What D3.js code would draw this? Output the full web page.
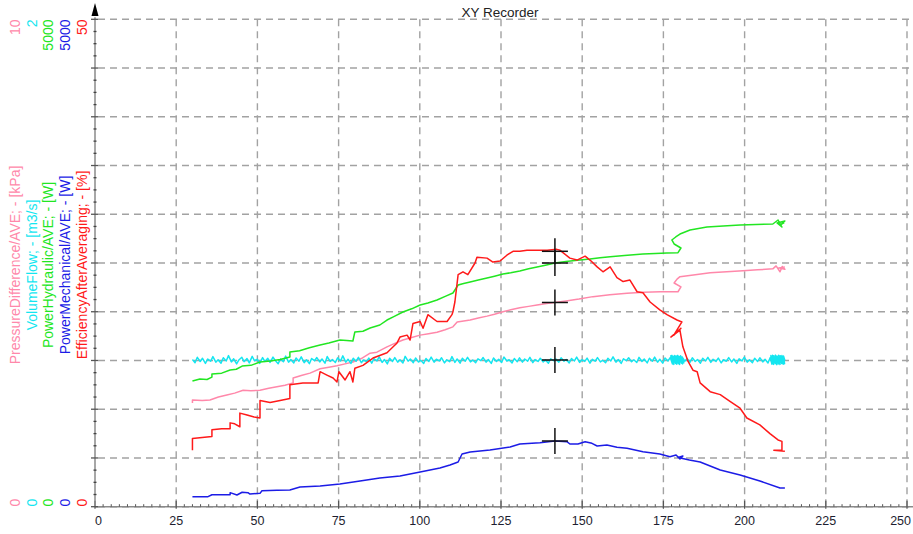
<!DOCTYPE html>
<html>
<head>
<meta charset="utf-8">
<script src="https://cdn.jsdelivr.net/npm/d3@7"></script>
<style>
  html, body { margin: 0; padding: 0; background: #ffffff; }
  svg { display: block; font-family: "Liberation Sans", Arial, sans-serif; }
</style>
</head>
<body>
<svg id="chart" width="913" height="534"></svg>
<script>
// ---- channel definitions -------------------------------------------------
const channelNames = [
  "PressureDifference/AVE; - [kPa]",
  "VolumeFlow; - [m3/s]",
  "PowerHydraulic/AVE; - [W]",
  "PowerMechanical/AVE; - [W]",
  "EfficiencyAfterAveraging; - [%]"
];
const channelMax = [10, 2, 5000, 5000, 50];
const channelMaxLabels = ["10", "2", "5000", "5000", "50"];
const channelMinLabels = ["0", "0", "0", "0", "0"];

const xTicks = [0, 25, 50, 75, 100, 125, 150, 175, 200, 225, 250];
const title = "XY Recorder";

// cursor position (flow axis) and channel readings at the cursor
const cursorX = 141.6;
const cursorValues = [4.19, 0.602, 2500, 674, 26.2];

// ---- recorded traces: [x, value] ----------------------------------------
const pressureDiff = [
  [30.0,2.13],[30.0,2.19],[33,2.18],[35.4,2.19],[38,2.25],[40.6,2.29],[43,2.33],[45.6,2.39],
  [48,2.38],[50.8,2.39],[53.5,2.43],[56.0,2.46],[58.5,2.49],[61.0,2.54],[61.0,2.64],[63.5,2.69],
  [66.2,2.74],[69.3,2.83],[72,2.86],[74.5,2.89],[77,2.93],[79.4,2.97],[82,3.04],[84.7,3.15],
  [86.8,3.17],[89.9,3.28],[92.3,3.35],[94.8,3.42],[97.5,3.47],[100.1,3.52],[102.7,3.55],[105.3,3.58],
  [107.8,3.63],[110.2,3.69],[111.5,3.79],[113.5,3.81],[115.5,3.83],[118,3.87],[120.7,3.91],[123,3.95],
  [125.6,4.00],[128,4.04],[130.8,4.08],[133.5,4.11],[136.1,4.14],[139,4.17],[141.6,4.19],[145,4.22],
  [149,4.26],[153.3,4.31],[158.5,4.35],[163.8,4.38],[169,4.40],[174.0,4.41],[179.5,4.41],[180.4,4.51],
  [178.3,4.59],[179.2,4.67],[180.1,4.72],[184.8,4.76],[189.4,4.80],[194.5,4.82],[199.5,4.84],[204,4.86],
  [208.7,4.88],[209.7,4.94],[210.9,4.82],[211.6,4.93],[212.4,4.87],[210.5,4.90],[212.4,4.92]
];

const volumeFlow = [
  [30.0,.604],[30.8,.591],[31.5,.613],[32.4,.596],[33.1,.609],[34.0,.588],[34.7,.606],[35.6,.597],[36.3,.616],[37.2,.593],
  [37.9,.603],[38.8,.589],[39.5,.611],[40.4,.598],[41.1,.620],[42.0,.594],[42.7,.607],[43.6,.586],[44.3,.602],[45.2,.613],
  [45.9,.595],[46.8,.608],[47.5,.590],[48.4,.617],[49.1,.599],[50.0,.605],[50.7,.588],[51.6,.612],[52.3,.596],[53.2,.609],
  [53.9,.592],[54.8,.614],[55.5,.600],[56.4,.587],[57.1,.606],[58.0,.595],[58.7,.618],[59.6,.593],[60.3,.604],[61.2,.590],
  [61.9,.610],[62.8,.597],[63.5,.615],[64.4,.591],[65.1,.603],[66.0,.587],[66.7,.608],[67.6,.599],[68.3,.612],[69.2,.594],
  [69.9,.606],[70.8,.589],[71.5,.616],[72.4,.596],[73.1,.604],[74.0,.592],[74.7,.611],[75.6,.598],[76.3,.619],[77.2,.593],
  [77.9,.605],[78.8,.588],[79.5,.609],[80.4,.597],[81.1,.613],[82.0,.591],[82.7,.602],[83.6,.595],[84.3,.610],[85.2,.589],
  [85.9,.607],[86.8,.598],[87.5,.615],[88.4,.592],[89.1,.604],[90.0,.586],[90.7,.609],[91.6,.596],[92.3,.612],[93.2,.593],
  [93.9,.603],[94.8,.590],[95.5,.617],[96.4,.597],[97.1,.606],[98.0,.591],[98.7,.610],[99.6,.594],[100.3,.601],[101.2,.588],
  [101.9,.608],[102.8,.596],[103.5,.614],[104.4,.593],[105.1,.605],[106.0,.598],[106.7,.611],[107.6,.590],[108.3,.603],[109.2,.595],
  [109.9,.616],[110.8,.592],[111.5,.606],[112.4,.589],[113.1,.609],[114.0,.597],[114.7,.613],[115.6,.594],[116.3,.602],[117.2,.591],
  [117.9,.607],[118.8,.599],[119.5,.612],[120.4,.593],[121.1,.604],[122.0,.588],[122.7,.610],[123.6,.596],[124.3,.605],[125.2,.592],
  [125.9,.614],[126.8,.598],[127.5,.603],[128.4,.590],[129.1,.608],[130.0,.595],[130.7,.611],[131.6,.593],[132.3,.606],[133.2,.597],
  [133.9,.613],[134.8,.591],[135.5,.604],[136.4,.596],[137.1,.609],[138.0,.594],[138.7,.602],[139.6,.589],[140.3,.607],[141.2,.599],
  [141.9,.606],[142.8,.593],[143.5,.611],[144.4,.597],[145.1,.604],[146.0,.590],[146.7,.608],[147.6,.598],[148.3,.614],[149.2,.592],
  [149.9,.603],[150.8,.596],[151.5,.610],[152.4,.589],[153.1,.605],[154.0,.597],[154.7,.612],[155.6,.594],[156.3,.601],[157.2,.591],
  [157.9,.609],[158.8,.598],[159.5,.615],[160.4,.593],[161.1,.604],[162.0,.588],[162.7,.607],[163.6,.599],[164.3,.611],[165.2,.595],
  [165.9,.603],[166.8,.592],[167.5,.613],[168.4,.596],[169.1,.606],[170.0,.590],[170.7,.609],[171.6,.597],[172.3,.614],[173.2,.593],
  [173.9,.605],[174.8,.589],[175.5,.610],[176.4,.598],[177.1,.612],
  [177.8,.586],[177.3,.619],[178.2,.584],[177.6,.621],[178.7,.588],[178.1,.617],[179.1,.585],[178.5,.620],[179.6,.587],[179.0,.618],
  [180.0,.584],[179.4,.621],[180.5,.589],[179.9,.616],[180.9,.586],[180.3,.619],[181.3,.590],[180.8,.614],[181.6,.597],
  [182.3,.608],[183.2,.593],[183.9,.611],[184.8,.596],[185.5,.604],[186.4,.589],[187.1,.609],[188.0,.598],[188.7,.613],[189.6,.592],
  [190.3,.605],[191.2,.596],[191.9,.610],[192.8,.590],[193.5,.603],[194.4,.597],[195.1,.612],[196.0,.594],[196.7,.606],[197.6,.588],
  [198.3,.607],[199.2,.598],[199.9,.614],[200.8,.593],[201.5,.603],[202.4,.591],[203.1,.609],[204.0,.596],[204.7,.611],[205.6,.594],
  [206.3,.605],[207.2,.590],[207.9,.612],
  [208.4,.585],[208.1,.620],[208.9,.584],[208.6,.621],[209.4,.587],[209.0,.619],[209.9,.583],[209.5,.622],[210.4,.586],[210.0,.618],
  [210.9,.584],[210.5,.621],[211.4,.588],[211.0,.619],[211.9,.585],[211.5,.620],[212.3,.587],[212.0,.618],[212.4,.600]
];

const powerHydraulic = [
  [30.0,1289],[32.3,1310],[34.5,1305],[36.0,1330],[36.0,1361],[39,1370],[41.6,1402],[43.5,1410],
  [45.3,1443],[48,1450],[50.8,1484],[54,1495],[57,1510],[60.0,1536],[60.0,1587],[63,1600],
  [66,1630],[69.3,1659],[72,1680],[75.4,1710],[77.5,1705],[79.4,1700],[80.0,1792],[82.5,1800],
  [84.7,1833],[87.7,1864],[89.9,1915],[92,1950],[94.8,1997],[97.5,2030],[100.1,2069],[102.5,2090],
  [105.3,2120],[108,2160],[110.2,2192],[111.8,2274],[113.5,2290],[115.5,2305],[118,2325],[120.7,2346],
  [123,2365],[125.6,2387],[128,2400],[130.8,2418],[133.5,2440],[136.1,2459],[139,2480],[141.6,2500],
  [145,2515],[148.5,2528],[152.4,2541],[155.5,2555],[158.6,2565],[163,2578],[168.7,2592],[172.5,2598],
  [176.1,2602],[179.5,2606],[180.4,2654],[178.3,2695],[177.6,2736],[178.8,2767],[180.1,2797],[183.2,2838],
  [185.8,2855],[188.4,2869],[193.4,2879],[198.6,2890],[203.5,2895],[208.7,2900],[210.3,2941],[211.5,2869],
  [210.0,2910],[212.4,2931],[211.0,2890],[212.2,2915]
];

const powerMechanical = [
  [30.0,103],[34.8,103],[36.0,123],[41.6,123],[41.6,144],[43.7,120],[45.3,148],[47.1,144],
  [47.7,130],[50.8,137],[51.4,164],[56,168],[60.0,171],[63.1,202],[69.3,212],[75.4,233],
  [81.6,264],[87.7,294],[93.9,315],[100.1,356],[106.2,397],[109.3,428],[111.8,459],[113.0,541],
  [115.5,561],[121.6,582],[127.8,612],[130.8,643],[137.0,657],[141.6,674],[145.3,667],[146.2,643],
  [148.7,643],[150.9,667],[153.0,650],[154.6,623],[157.6,633],[160.7,609],[163.8,599],[168.7,564],
  [173.9,541],[177.0,513],[178.9,530],[180.1,489],[181.0,520],[179.5,505],[183,480],[186.3,459],
  [192.5,376],[198.6,325],[204.7,264],[210.9,192],[212.4,192]
];

const efficiency = [
  [30.0,5.8],[30.0,7.0],[33,7.1],[36.0,7.2],[36.0,7.9],[39,8.0],[41.6,8.0],[41.6,8.6],
  [43,8.5],[44.6,8.2],[44.6,9.6],[46.8,9.4],[49,9.2],[50.8,9.1],[50.8,10.9],[53.9,10.7],
  [57,10.9],[60.0,11.1],[60.0,12.5],[64.0,12.7],[68.7,12.7],[69.3,13.85],[71.4,13.5],[73.3,13.2],
  [74.5,12.8],[75.1,13.85],[77.0,13.0],[78.5,13.85],[79.4,12.8],[80.0,14.2],[82.5,14.5],[85.6,15.25],
  [89.9,15.8],[93.0,16.8],[93.9,17.4],[96.1,17.6],[97.0,17.1],[97.9,18.8],[100.1,19.0],[101.0,18.3],
  [102.5,19.7],[105.3,19.0],[108.4,19.0],[109.9,19.7],[110.2,20.0],[110.8,21.0],[111.8,23.8],[113.3,24.1],
  [114.8,23.8],[117.0,25.0],[117.6,25.6],[120.7,25.5],[122.5,25.1],[124.7,25.2],[126.8,25.8],[128.7,26.2],
  [130.8,26.2],[133.0,26.3],[139.2,26.3],[142.2,26.4],[143.2,26.3],[146.2,25.5],[148.4,25.3],[150.9,25.7],
  [152.4,25.3],[154.6,24.6],[156.4,24.1],[158.6,24.6],[160.7,23.5],[162.6,23.1],[164.7,23.25],[166.9,22.05],
  [168.7,21.95],[170.9,21.0],[173.9,20.2],[176.1,19.7],[179.2,19.15],[180.7,18.95],[178.2,17.6],[180.4,18.3],
  [177.3,17.4],[180.1,18.1],[181.0,16.4],[182.6,14.9],[184.1,14.0],[185.4,13.85],[186.3,12.7],[189.4,11.8],
  [192.5,11.5],[195.5,10.8],[198.6,10.1],[200.7,9.1],[204.7,8.4],[207.8,7.5],[210.3,6.85],[211.5,6.7],
  [211.5,5.8],[209.0,5.8],[212.4,5.7]
];

const channelColors = ["#ff88aa", "#14e6f0", "#22e622", "#1c1ce6", "#ff1a1a"];

// ---- drawing ---------------------------------------------------------------
const svg = d3.select("#chart");
const W = 913, H = 534;
const plot = { left: 95, right: 907, top: 19.3, bottom: 506.7 };

const x = d3.scaleLinear().domain([0, 250]).range([plot.left, plot.right]);
const yScales = channelMax.map(m => d3.scaleLinear().domain([0, m]).range([plot.bottom, plot.top]));
const yRef = yScales[4];

const gridColor = "#a2a2a2";
const axisColor = "#8a8a8a";

// dashed grid
const grid = svg.append("g").attr("class", "grid");
grid.selectAll("line.h")
  .data(d3.range(0, 55, 5))
  .join("line")
  .attr("class", "h")
  .attr("x1", plot.left + 3).attr("x2", W)
  .attr("y1", d => yRef(d)).attr("y2", d => yRef(d))
  .attr("stroke", gridColor).attr("stroke-width", 1.4)
  .attr("stroke-dasharray", "7,5");
grid.selectAll("line.v")
  .data(xTicks.slice(1))
  .join("line")
  .attr("class", "v")
  .attr("x1", d => x(d)).attr("x2", d => x(d))
  .attr("y1", plot.top).attr("y2", plot.bottom)
  .attr("stroke", gridColor).attr("stroke-width", 1.4)
  .attr("stroke-dasharray", "7,5");

// x axis
const xAxisG = svg.append("g");
xAxisG.append("line")
  .attr("x1", plot.left).attr("x2", W)
  .attr("y1", plot.bottom).attr("y2", plot.bottom)
  .attr("stroke", axisColor).attr("stroke-width", 1.5);
xAxisG.selectAll("line.minor")
  .data(d3.range(2.5, 252, 2.5).filter(v => Math.abs(v % 25) > 0.01))
  .join("line")
  .attr("class", "minor")
  .attr("x1", d => x(d)).attr("x2", d => x(d))
  .attr("y1", plot.bottom - 2.5).attr("y2", plot.bottom)
  .attr("stroke", "#555").attr("stroke-width", 1);
xAxisG.selectAll("line.major")
  .data(xTicks)
  .join("line")
  .attr("class", "major")
  .attr("x1", d => x(d)).attr("x2", d => x(d))
  .attr("y1", plot.bottom - 6).attr("y2", plot.bottom + 2)
  .attr("stroke", "#555").attr("stroke-width", 1.2);
xAxisG.selectAll("text")
  .data(xTicks)
  .join("text")
  .attr("x", (d, i) => i === 0 ? x(d) : (i === xTicks.length - 1 ? W - 2 : x(d)))
  .attr("y", 525)
  .attr("text-anchor", (d, i) => i === 0 ? "start" : (i === xTicks.length - 1 ? "end" : "middle"))
  .attr("font-size", 12.5)
  .attr("fill", "#1e1e30")
  .text(d => d);

// y axis
const yAxisG = svg.append("g");
yAxisG.append("line")
  .attr("x1", plot.left).attr("x2", plot.left)
  .attr("y1", plot.top - 2).attr("y2", plot.bottom)
  .attr("stroke", axisColor).attr("stroke-width", 1.5);
yAxisG.selectAll("line.minor")
  .data(d3.range(1.25, 50, 1.25).filter(v => Math.abs(v % 5) > 0.01))
  .join("line")
  .attr("class", "minor")
  .attr("x1", plot.left - 1.5).attr("x2", plot.left + 1.5)
  .attr("y1", d => yRef(d)).attr("y2", d => yRef(d))
  .attr("stroke", "#444").attr("stroke-width", 1.3);
yAxisG.selectAll("line.major")
  .data(d3.range(0, 55, 5))
  .join("line")
  .attr("class", "major")
  .attr("x1", plot.left - 4).attr("x2", plot.left + 3)
  .attr("y1", d => yRef(d)).attr("y2", d => yRef(d))
  .attr("stroke", "#555").attr("stroke-width", 1.3);
// arrow head at the top of the value axis
yAxisG.append("path")
  .attr("d", `M${plot.left},3 L${plot.left + 3.5},16 L${plot.left - 3.5},16 Z`)
  .attr("fill", "#000");

// channel axis labels (rotated)
const labelCols = [15, 31.7, 48.3, 65, 81.7];
channelNames.forEach((name, i) => {
  const cx = labelCols[i];
  const col = channelColors[i];
  const put = (y, anchor, txt) => {
    svg.append("text")
      .attr("transform", `translate(${cx},${y}) rotate(-90)`)
      .attr("text-anchor", anchor)
      .attr("dy", "0.36em")
      .attr("font-size", 14)
      .attr("fill", col)
      .text(txt);
  };
  put(19.5, "end", channelMaxLabels[i]);
  put(506.5, "start", channelMinLabels[i]);
  put(265, "middle", name);
});

// title
svg.append("text")
  .attr("x", 500).attr("y", 17)
  .attr("text-anchor", "middle")
  .attr("font-size", 13.5)
  .attr("fill", "#222")
  .text(title);

// traces
const series = [pressureDiff, volumeFlow, powerHydraulic, powerMechanical, efficiency];
series.forEach((data, i) => {
  const line = d3.line().x(d => x(d[0])).y(d => yScales[i](d[1]));
  svg.append("path")
    .datum(data)
    .attr("d", line)
    .attr("fill", "none")
    .attr("stroke", channelColors[i])
    .attr("stroke-width", 1.5)
    .attr("stroke-linejoin", "round");
});

// cursor crosses
const cursorG = svg.append("g");
cursorValues.forEach((v, i) => {
  const cx = x(cursorX), cy = yScales[i](v);
  cursorG.append("line")
    .attr("x1", cx - 13).attr("x2", cx + 13)
    .attr("y1", cy).attr("y2", cy)
    .attr("stroke", "#111").attr("stroke-width", 1.5);
  cursorG.append("line")
    .attr("x1", cx).attr("x2", cx)
    .attr("y1", cy - 13).attr("y2", cy + 13)
    .attr("stroke", "#111").attr("stroke-width", 1.5);
});
</script>
</body>
</html>
